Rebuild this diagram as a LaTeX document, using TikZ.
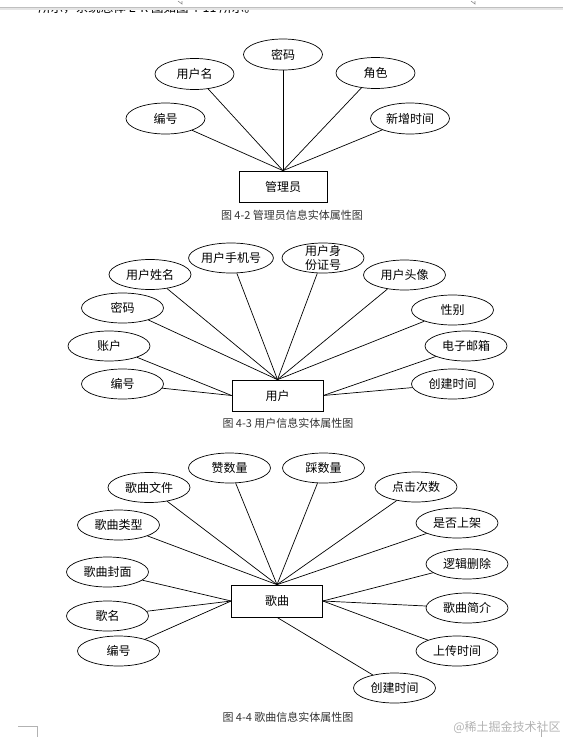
\documentclass[tikz,border=0pt]{standalone}
\usepackage{fontspec}
\newfontfamily\cjk{Noto Sans CJK SC}
\usetikzlibrary{shapes.geometric}
\begin{document}
\begin{tikzpicture}[x=1pt,y=-1pt,line width=0.7pt,
  attr/.style={ellipse,draw,inner sep=0pt,minimum width=82pt,minimum height=30pt,font=\cjk\fontsize{12}{14}\selectfont},
  ent/.style={rectangle,draw,inner sep=0pt,minimum width=91pt,minimum height=31pt,font=\cjk\fontsize{12}{14}\selectfont},
  figcap/.style={font=\cjk\fontsize{11}{13}\selectfont,text=black!80}]
 \useasboundingbox (0,0) rectangle (563,737);
 \begin{scope}
  \clip (0,7) rectangle (563,20);
  \node[anchor=base west,inner sep=0pt,font=\cjk\fontsize{12.5}{14}\selectfont] (intro) at (38,12) {所示，系统总体 E-R 图如图 4-11 所示。};
 \end{scope}
 \draw[black!25,line width=0.8pt] (0,7) -- (563,7);
 \draw[black!10,line width=2pt] (0,9) -- (563,9);
 \draw[black!45,line width=0.6pt] (178,1) -- (182,4) -- (182,1);
 \draw[black!45,line width=0.6pt] (471,1) -- (475,4) -- (475,1);
 \begin{scope}
  \node[ent,minimum width=88pt] (admin) at (283,186.5) {管理员};
  \foreach \nm/\px/\py/\txt in {a1/165.5/118.5/编号,a2/194.5/74/用户名,a3/283/54.5/密码,a4/375.5/73/角色,a5/410/118.5/新增时间}{
    \node[attr,minimum width=79pt,minimum height=31pt] (\nm) at (\px,\py) {\txt};
    \draw (\nm) -- (admin.north);
  }
  \node[figcap] (cap1) at (292,215) {图 4-2 管理员信息实体属性图};
 \end{scope}
 \begin{scope}
  \node[ent] (user) at (277.5,395.5) {用户};
  \foreach \nm/\px/\py/\anc/\txt in {b1/122.5/384/west/编号,b2/109/346/west/账户,b3/122.5/308/north/密码,b4/150/274.5/north/用户姓名,b5/231/258/north/用户手机号,b7/404.5/275/north/用户头像,b8/452.5/310/north/性别,b9/466/346/east/电子邮箱,b10/452.5/384/east/创建时间}{
    \node[attr] (\nm) at (\px,\py) {\txt};
    \draw (\nm) -- (user.\anc);
  }
  \node[attr] (b6) at (323,258) {};
  \node[inner sep=0pt,align=center,font=\cjk\fontsize{12}{14}\selectfont] (b6txt) at (b6) {用户身\\份证号};
  \draw (b6) -- (user.north);
  \node[figcap] (cap2) at (288,423) {图 4-3 用户信息实体属性图};
 \end{scope}
 \begin{scope}
  \node[ent,minimum height=32pt] (song) at (277,601) {歌曲};
  \foreach \nm/\px/\py/\anc/\txt in {c1/118.5/651/west/编号,c2/107.5/616/west/歌名,c3/107.5/572/west/歌曲封面,c4/118.5/525/north/歌曲类型,c5/149/487.5/north/歌曲文件,c6/229.5/468/north/赞数量,c7/323.5/468/north/踩数量,c8/416/487/north/点击次数,c9/457/523/north/是否上架,c10/467/564/east/逻辑删除,c11/467/608/east/歌曲简介,c12/457/651/east/上传时间,c13/394.5/688/south/创建时间}{
    \node[attr] (\nm) at (\px,\py) {\txt};
    \draw (\nm) -- (song.\anc);
  }
  \node[figcap] (cap3) at (288,717) {图 4-4 歌曲信息实体属性图};
 \end{scope}
 \draw[black!30,line width=0.6pt] (18,726) -- (37,726) -- (37,737);
 \draw[black!30,line width=0.6pt] (541,729) -- (541,737);
 \node[anchor=base west,inner sep=0pt,font=\cjk\fontsize{12}{14}\selectfont,text=black!30] (mark) at (453,731) {@稀土掘金技术社区};
\end{tikzpicture}
\end{document}
